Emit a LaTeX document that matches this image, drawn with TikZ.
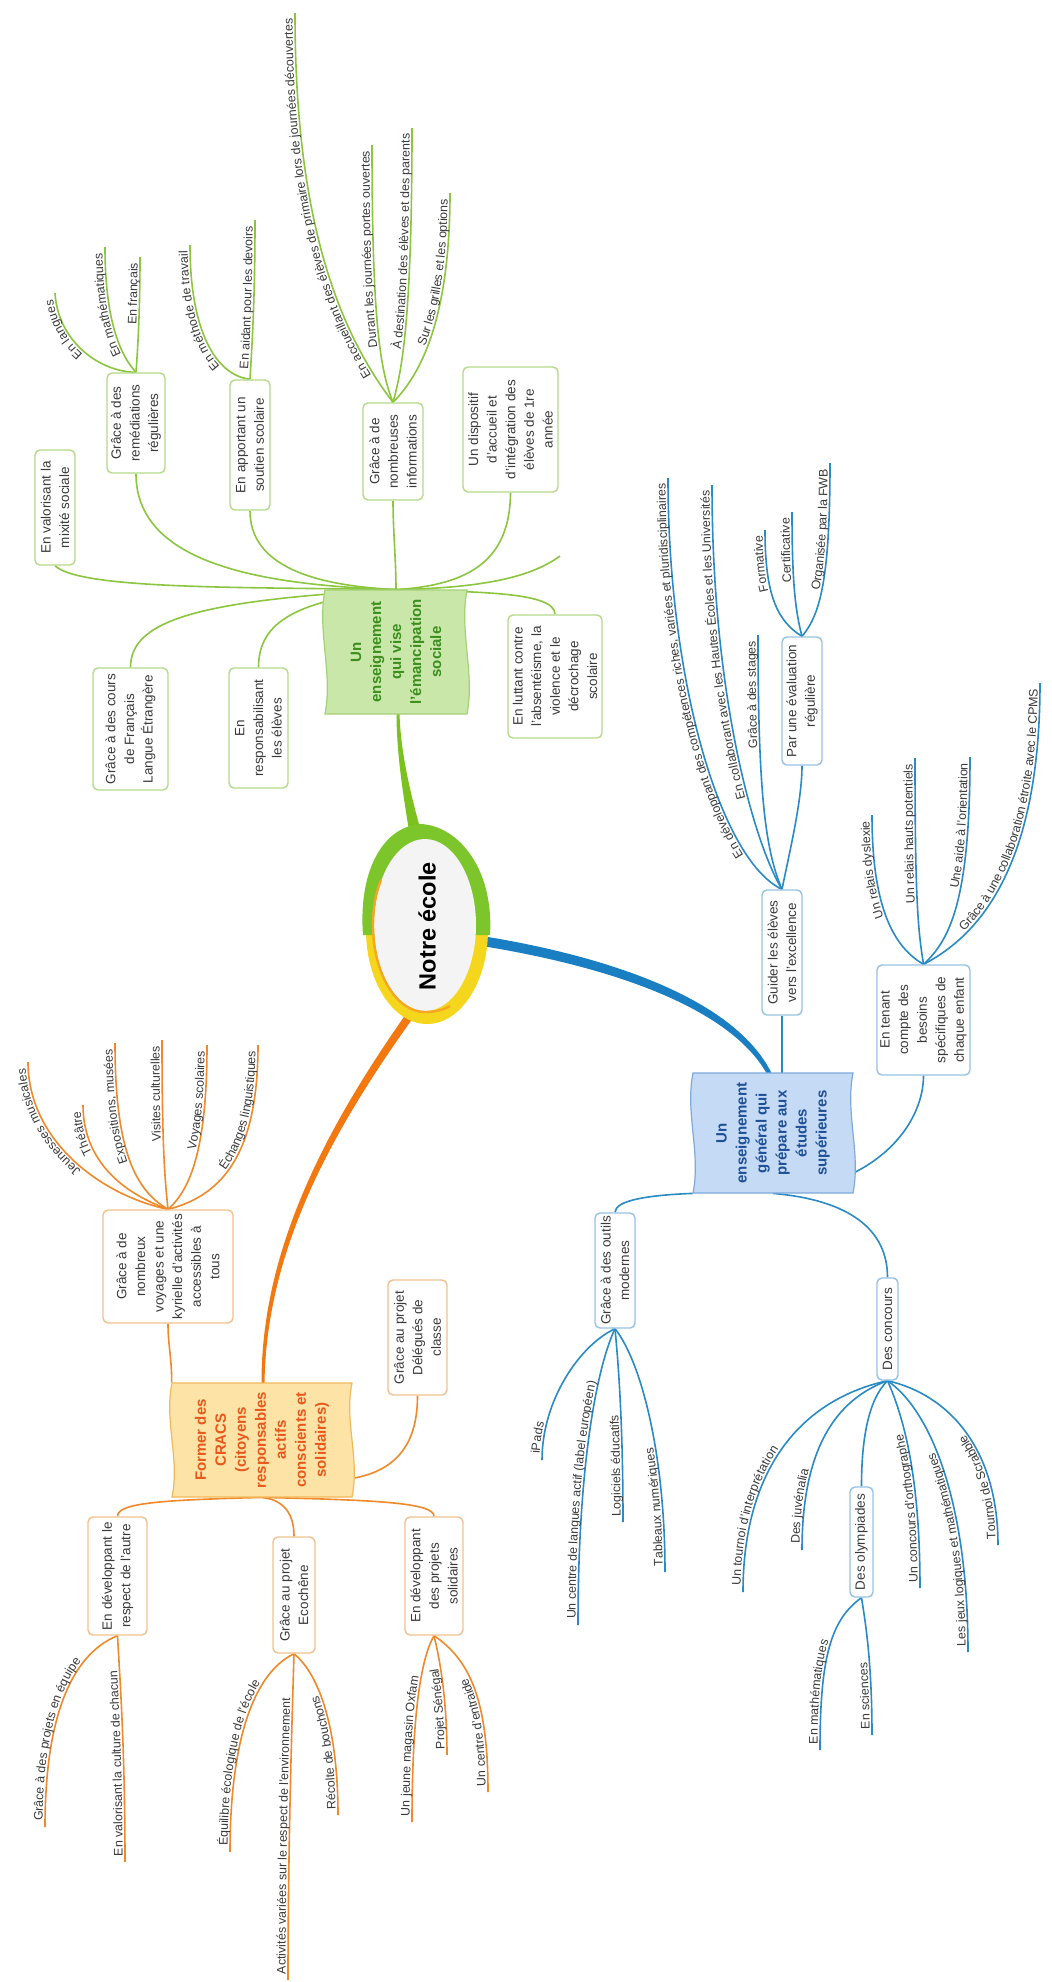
\documentclass[tikz,border=0pt]{standalone}
\usepackage{fontspec}
\setmainfont{Liberation Sans}
\usetikzlibrary{decorations.text,shapes.geometric}
\pgfdeclarelayer{back}
\pgfdeclarelayer{bg}
\pgfsetlayers{back,bg,main}
\definecolor{gline}{HTML}{8CC63F}
\definecolor{oline}{HTML}{F0892A}
\definecolor{bline}{HTML}{2A8AC4}
\definecolor{gborder}{HTML}{B5DA8A}
\definecolor{oborder}{HTML}{F0C18E}
\definecolor{bborder}{HTML}{96C3E3}
\definecolor{boxtext}{HTML}{3A3A3A}
\definecolor{leaftext}{HTML}{3A3A3A}
\definecolor{gfill}{HTML}{C9E7A8}
\definecolor{gedge}{HTML}{A3D175}
\definecolor{gtext}{HTML}{3C8E1E}
\definecolor{ofill}{HTML}{FDE3A6}
\definecolor{oedge}{HTML}{F2B95A}
\definecolor{otext}{HTML}{E8571C}
\definecolor{bfill}{HTML}{C5DBF5}
\definecolor{bedge}{HTML}{7FA9DB}
\definecolor{btext}{HTML}{1E4F97}
\definecolor{gthick}{HTML}{7CC21F}
\definecolor{othick}{HTML}{F2780F}
\definecolor{bthick}{HTML}{1A7EC3}
\definecolor{rooty}{HTML}{F4D71C}
\definecolor{rootg}{HTML}{7CC52B}
\definecolor{rooto}{HTML}{F5A623}
\definecolor{rooti}{HTML}{F4F4F4}
\newcommand\leaffont{\fontsize{6.2}{7}\selectfont\color{leaftext}}
\newcommand\boxfont{\fontsize{6.75}{9.3}\selectfont}
\newcommand\topicfont{\fontsize{7.5}{10}\selectfont\bfseries}
\newcommand\rootfont{\fontsize{11.75}{13}\selectfont\bfseries}
\newcommand\leafU[3]{\draw[#1] #2;
  \path[decorate,decoration={text along path,text align={right,right indent=3pt},raise=1.2pt,text={|\leaffont|#3}}] #2;}
\newcommand\leafD[3]{\draw[#1] #2;
  \path[decorate,decoration={text along path,text align={left,left indent=3pt},raise=1.2pt,text={|\leaffont|#3}}] #2;}
\tikzset{
  gl/.style={draw=gline,line width=0.8pt},
  ol/.style={draw=oline,line width=0.8pt},
  bl/.style={draw=bline,line width=0.8pt},
  subbox/.style={rounded corners=2.5pt,fill=white,rotate=90,align=center,font=\boxfont,text=boxtext,inner sep=1pt,line width=0.7pt},
  gbox/.style={subbox,draw=gborder},
  obox/.style={subbox,draw=oborder},
  bbox/.style={subbox,draw=bborder},
  topic/.style={rotate=90,align=center,inner sep=0pt,font=\topicfont},
}
\begin{document}
\begin{tikzpicture}[x=0.5pt,y=-0.5pt]
\useasboundingbox (0,0) rectangle (1051,1982);
\begin{pgfonlayer}{back}
\fill[white] (0,0) rectangle (1051,1982);
\end{pgfonlayer}

% ---------- main topics ----------
\filldraw[fill=gfill,draw=gedge,line width=0.6pt] (325,590) -- (467,590) .. controls (459,631) and (475,673) .. (467,714) -- (325,714) .. controls (333,673) and (317,631) .. (325,590) -- cycle;
\node[topic,text=gtext,minimum width=62pt,minimum height=71pt] (gm) at (396,652) {Un\\enseignement\\qui vise\\l'émancipation\\sociale};

\filldraw[fill=ofill,draw=oedge,line width=0.6pt] (172,1383) -- (352,1383) .. controls (344,1421) and (360,1459) .. (352,1497) -- (172,1497) .. controls (180,1459) and (164,1421) .. (172,1383) -- cycle;
\node[topic,text=otext,minimum width=57pt,minimum height=90pt] (om) at (262,1440) {Former des\\CRACS\\(citoyens\\responsables\\actifs\\conscients et\\solidaires)};

\filldraw[fill=bfill,draw=bedge,line width=0.6pt] (693,1073) -- (853,1073) .. controls (845,1113) and (861,1153) .. (853,1193) -- (693,1193) .. controls (701,1153) and (685,1113) .. (693,1073) -- cycle;
\node[topic,text=btext,minimum width=60pt,minimum height=80pt] (bm) at (773,1133) {Un\\enseignement\\général qui\\prépare aux\\études\\supérieures};

% ---------- green sub-topics ----------
\node[gbox,minimum width=57.5pt,minimum height=20pt] (g1) at (55,507.5) {En valorisant la\\mixité sociale};
\node[gbox,minimum width=50pt,minimum height=29pt] (g2) at (136,423) {Grâce à des\\remédiations\\régulières};
\node[gbox,minimum width=65pt,minimum height=20pt] (g3) at (250,445) {En apportant un\\soutien scolaire};
\node[gbox,minimum width=48.5pt,minimum height=30pt] (g4) at (393,451.5) {Grâce à de\\nombreuses\\informations};
\node[gbox,minimum width=62.5pt,minimum height=47.5pt] (g5) at (510.5,429.5) {Un dispositif\\d'accueil et\\d'intégration des\\élèves de 1re\\année};
\node[gbox,minimum width=61pt,minimum height=37.5pt] (g6) at (130.5,729) {Grâce à des cours\\de Français\\Langue Étrangère};
\node[gbox,minimum width=60pt,minimum height=29.5pt] (g7) at (258.5,728) {En\\responsabilisant\\les élèves};
\node[gbox,minimum width=61.5pt,minimum height=47pt] (g8) at (555,676.5) {En luttant contre\\l'absentéisme, la\\violence et le\\décrochage\\scolaire};
\coordinate (gstub) at (560,556);

% ---------- orange sub-topics ----------
\node[obox,minimum width=56.5pt,minimum height=65pt] (o1) at (168,1266.5) {Grâce à de\\nombreux\\voyages et une\\kyrielle d'activités\\accessibles à\\tous};
\node[obox,minimum width=57.5pt,minimum height=29.5pt] (o2) at (417.5,1337.5) {Grâce au projet\\Délégués de\\classe};
\node[obox,minimum width=59pt,minimum height=29.5pt] (o3) at (117.5,1576) {En développant le\\respect de l'autre};
\node[obox,minimum width=58pt,minimum height=21pt] (o4) at (294,1595) {Grâce au projet\\Ecochêne};
\node[obox,minimum width=59pt,minimum height=29pt] (o5) at (434,1576) {En développant\\des projets\\solidaires};

% ---------- blue sub-topics ----------
\node[bbox,minimum width=62.5pt,minimum height=20pt] (b1) at (782,952.5) {Guider les élèves\\vers l'excellence};
\node[bbox,minimum width=64pt,minimum height=20pt] (b2) at (802,701) {Par une évaluation\\régulière};
\node[bbox,minimum width=55pt,minimum height=46.5pt] (b3) at (923.5,1020) {En tenant\\compte des\\besoins\\spécifiques de\\chaque enfant};
\node[bbox,minimum width=57.5pt,minimum height=20pt] (b4) at (615,1270.5) {Grâce à des outils\\modernes};
\node[bbox,minimum width=51pt,minimum height=10.5pt] (b5) at (887.5,1329) {Des concours};
\node[bbox,minimum width=55pt,minimum height=11.5pt] (b6) at (861.5,1542) {Des olympiades};

% ---------- central topic ----------
\fill[rooty] (427,930) ellipse [x radius=30.5pt,y radius=47pt];
\fill[rootg] (363,935) .. controls (358,868) and (385,826) .. (421,824) .. controls (458,826) and (494,868) .. (490,935) -- cycle;
\fill[rooti] (425,925) ellipse [x radius=25.5pt,y radius=43pt];
\draw[rooto,line width=1.2pt] (381,880) .. controls (375,895) and (373,910) .. (373,925) .. controls (373,973) and (396,1012) .. (425,1012) .. controls (435,1012) and (443,1010) .. (450,1006);
\node[rotate=90,font=\rootfont,inner sep=0pt] (root) at (427,926) {Notre école};

% ---------- connectors and leaves ----------
\begin{pgfonlayer}{bg}
\fill[gthick] (411,842) .. controls (402,790) and (396.5,750) .. (396.5,713) -- (399.5,713) .. controls (400.5,750) and (409,790) .. (424,842) -- cycle;
\fill[bthick] (482,936) .. controls (600,955) and (734,996) .. (772,1074) -- (767,1074) .. controls (728,1004) and (600,965) .. (482,946) -- cycle;
\fill[othick] (406,1014) .. controls (326,1128) and (261,1250) .. (261.5,1384) -- (264.5,1384) .. controls (266,1250) and (332,1131) .. (413,1018) -- cycle;

\draw[gl] (gm.east) .. controls (250,587) and (80,590) .. (g1.west);
\draw[gl] (gm.east) .. controls (250,585) and (136,560) .. (g2.west);
\draw[gl] (gm.east) .. controls (300,585) and (250,560) .. (g3.west);
\draw[gl] (gm.east) .. controls (396,560) and (393,530) .. (g4.west);
\draw[gl] (gm.east) .. controls (470,585) and (510,560) .. (g5.west);
\draw[gl] (gm.east) .. controls (480,588) and (530,578) .. (gstub);
\draw[gl] (gm.east) .. controls (200,600) and (130.5,620) .. (g6.east);
\draw[gl] (gm.east) .. controls (300,600) and (258.5,620) .. (g7.east);
\draw[gl] (gm.east) .. controls (480,592) and (555,592) .. (g8.east);

\leafU{gl}{(g2.east) .. controls (100,372) and (58,342) .. (55,293)}{En langues}
\leafU{gl}{(g2.east) .. controls (120,355) and (105,320) .. (105,247)}{En mathématiques}
\leafU{gl}{(g2.east) .. controls (138,345) and (140,310) .. (140,257)}{En français}
\leafU{gl}{(g3.east) .. controls (215,375) and (190,330) .. (190,245)}{En méthode de travail}
\leafU{gl}{(g3.east) .. controls (252,345) and (255,300) .. (255,220)}{En aidant pour les devoirs}
\leafU{gl}{(g4.east) .. controls (330,320) and (295,200) .. (295,13)}{En accueillant des élèves de primaire lors de journées découvertes}
\leafU{gl}{(g4.east) .. controls (380,370) and (372,320) .. (372,145)}{Durant les journées portes ouvertes}
\leafU{gl}{(g4.east) .. controls (402,370) and (412,320) .. (412,128)}{À destination des élèves et des parents}
\leafU{gl}{(g4.east) .. controls (415,380) and (450,330) .. (450,193)}{Sur les grilles et les options}

\draw[ol] (om.north east) .. controls (172,1360) and (168,1345) .. (o1.west);
\draw[ol] ([yshift=9.5pt]om.south west) .. controls (400,1470) and (417.5,1440) .. (o2.west);
\draw[ol] (om.west) .. controls (160,1500) and (117.5,1503) .. (o3.east);
\draw[ol] (om.west) .. controls (285,1500) and (294,1515) .. (o4.east);
\draw[ol] (om.west) .. controls (380,1500) and (434,1503) .. (o5.east);

\leafU{ol}{(o1.east) .. controls (100,1195) and (28,1140) .. (28,1062)}{Jeunesses musicales}
\leafU{ol}{(o1.east) .. controls (115,1190) and (83,1155) .. (83,1105)}{Théâtre}
\leafU{ol}{(o1.east) .. controls (135,1190) and (115,1150) .. (115,1043)}{Expositions, musées}
\leafU{ol}{(o1.east) .. controls (165,1180) and (162,1150) .. (162,1040)}{Visites culturelles}
\leafU{ol}{(o1.east) .. controls (190,1190) and (207,1150) .. (207,1045)}{Voyages scolaires}
\leafU{ol}{(o1.east) .. controls (225,1195) and (258,1150) .. (258,1045)}{Échanges linguistiques}
\leafD{ol}{(45,1827) .. controls (45,1720) and (70,1655) .. (o3.west)}{Grâce à des projets en équipe}
\leafD{ol}{(125,1862) .. controls (125,1750) and (120,1680) .. (o3.west)}{En valorisant la culture de chacun}
\leafD{ol}{(230,1852) .. controls (230,1750) and (250,1675) .. (o4.west)}{Équilibre écologique de l'école}
\leafD{ol}{(288,1980) .. controls (288,1850) and (292,1720) .. (o4.west)}{Activités variées sur le respect de l'environnement}
\leafD{ol}{(338,1815) .. controls (338,1730) and (320,1675) .. (o4.west)}{Récolte de bouchons}
\leafD{ol}{(412,1822) .. controls (412,1720) and (420,1660) .. (o5.west)}{Un jeune magasin Oxfam}
\leafD{ol}{(447,1755) .. controls (447,1700) and (440,1660) .. (o5.west)}{Projet Sénégal}
\leafD{ol}{(488,1792) .. controls (488,1700) and (470,1660) .. (o5.west)}{Un centre d'entraide}

\draw[bl] (b1.west) -- (b1.west |- bm.east);
\draw[bl] ([yshift=-20pt]bm.south) .. controls (900,1150) and (923.5,1110) .. (b3.west);
\draw[bl] (bm.west) .. controls (850,1200) and (887.5,1230) .. (b5.east);
\draw[bl] (bm.north west) .. controls (650,1195) and (615,1200) .. (b4.east);
\draw[bl] (b1.east) .. controls (790,850) and (802,800) .. (b2.west);
\draw[bl] (b5.west) .. controls (868,1400) and (861.5,1440) .. (b6.east);

\leafU{bl}{(b3.east) .. controls (890,945) and (872,900) .. (872,815)}{Un relais dyslexie}
\leafU{bl}{(b3.east) .. controls (918,930) and (915,900) .. (915,758)}{Un relais hauts potentiels}
\leafU{bl}{(b3.east) .. controls (950,940) and (970,900) .. (970,757)}{Une aide à l'orientation}
\leafU{bl}{(b3.east) .. controls (990,930) and (1040,850) .. (1040,683)}{Grâce à une collaboration étroite avec le CPMS}
\leafU{bl}{(b1.east) .. controls (765,850) and (758,790) .. (758,635)}{Grâce à des stages}
\leafU{bl}{(b1.east) .. controls (755,845) and (712,700) .. (712,485)}{En collaborant avec les Hautes Écoles et les Universités}
\leafU{bl}{(b1.east) .. controls (720,860) and (668,680) .. (668,478)}{En développant des compétences riches, variées et pluridisciplinaires}
\leafU{bl}{(b2.east) .. controls (775,620) and (765,590) .. (765,530)}{Formative}
\leafU{bl}{(b2.east) .. controls (795,610) and (792,580) .. (792,512)}{Certificative}
\leafU{bl}{(b2.east) .. controls (820,615) and (830,580) .. (830,463)}{Organisée par la FWB}

\leafD{bl}{(542,1460) .. controls (542,1400) and (580,1345) .. (b4.west)}{iPads}
\leafD{bl}{(578,1625) .. controls (578,1450) and (600,1360) .. (b4.west)}{Un centre de langues actif (label européen)}
\leafD{bl}{(623,1522) .. controls (623,1420) and (618,1360) .. (b4.west)}{Logiciels éducatifs}
\leafD{bl}{(665,1572) .. controls (665,1450) and (640,1360) .. (b4.west)}{Tableaux numériques}
\leafD{bl}{(743,1592) .. controls (743,1470) and (800,1400) .. (b5.west)}{Un tournoi d'interprétation}
\leafD{bl}{(802,1550) .. controls (802,1450) and (835,1400) .. (b5.west)}{Des juvénalia}
\leafD{bl}{(920,1588) .. controls (920,1480) and (905,1420) .. (b5.west)}{Un concours d'orthographe}
\leafD{bl}{(968,1652) .. controls (968,1500) and (930,1410) .. (b5.west)}{Les jeux logiques et mathématiques}
\leafD{bl}{(998,1545) .. controls (998,1450) and (950,1395) .. (b5.west)}{Tournoi de Scrabble}
\leafD{bl}{(820,1750) .. controls (820,1660) and (830,1620) .. (b6.west)}{En mathématiques}
\leafD{bl}{(872,1735) .. controls (872,1660) and (865,1620) .. (b6.west)}{En sciences}
\end{pgfonlayer}
\end{tikzpicture}
\end{document}
